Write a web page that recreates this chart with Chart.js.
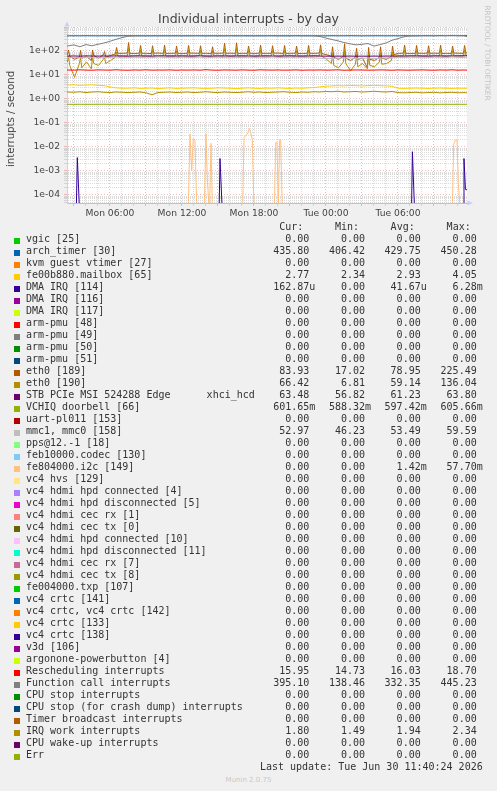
<!DOCTYPE html>
<html><head><meta charset="utf-8">
<script src="https://cdn.jsdelivr.net/npm/chart.js@4.4.1/dist/chart.umd.min.js"></script>
<style>
html,body{margin:0;padding:0;background:#f0f0f0;}
#wrap{position:relative;width:497px;height:791px;overflow:hidden;background:#f0f0f0;font-family:'DejaVu Sans',sans-serif;}
#cv{position:absolute;left:0;top:0;}
.t{position:absolute;white-space:pre;}
#title{left:0;width:497px;text-align:center;top:12px;font-size:12.5px;line-height:14.5px;color:#444;}
#ytitle{left:-49px;width:120px;top:113px;text-align:center;font-size:10.2px;line-height:12px;color:#444;transform:rotate(-90deg);}
#rrd{left:437px;width:100px;top:47.5px;text-align:center;font-size:7.4px;line-height:10px;color:#c4c4c4;transform:rotate(90deg);}
#munin{left:0;width:497px;text-align:center;top:775px;font-size:7px;line-height:10px;color:#c8c8c8;}
.leg{position:absolute;font-family:'DejaVu Sans Mono',monospace;font-size:10px;line-height:12px;color:#333;white-space:pre;}
.sq{position:absolute;width:6px;height:6px;}
</style></head><body><div id="wrap">
<canvas id="cv" width="497" height="225"></canvas>
<div id="title" class="t">Individual interrupts - by day</div>
<div id="ytitle" class="t">interrupts / second</div>
<div id="rrd" class="t">RRDTOOL / TOBI OETIKER</div>
<div id="munin" class="t">Munin 2.0.75</div>
</div>
<script>
// ---------- axis labels ----------
const xTickValues = [6, 12, 18, 24, 30];
const xTickLabels = ['Mon 06:00', 'Mon 12:00', 'Mon 18:00', 'Tue 00:00', 'Tue 06:00'];
const yTickValues = [1e-4, 1e-3, 1e-2, 1e-1, 1, 10, 100];
const yTickLabels = ['1e-04', '1e-03', '1e-02', '1e-01', '1e+00', '1e+01', '1e+02'];
const X_MIN = 2.42, X_MAX = 35.75;   // hours since Mon 00:00
const Y_MIN = 4.6e-5, Y_MAX = 1000;

// ---------- legend ----------
const names = ['vgic [25]','arch_timer [30]','kvm guest vtimer [27]','fe00b880.mailbox [65]','DMA IRQ [114]','DMA IRQ [116]','DMA IRQ [117]','arm-pmu [48]','arm-pmu [49]','arm-pmu [50]','arm-pmu [51]','eth0 [189]','eth0 [190]','STB PCIe MSI 524288 Edge      xhci_hcd','VCHIQ doorbell [66]','uart-pl011 [153]','mmc1, mmc0 [158]','pps@12.-1 [18]','feb10000.codec [130]','fe804000.i2c [149]','vc4 hvs [129]','vc4 hdmi hpd connected [4]','vc4 hdmi hpd disconnected [5]','vc4 hdmi cec rx [1]','vc4 hdmi cec tx [0]','vc4 hdmi hpd connected [10]','vc4 hdmi hpd disconnected [11]','vc4 hdmi cec rx [7]','vc4 hdmi cec tx [8]','fe004000.txp [107]','vc4 crtc [141]','vc4 crtc, vc4 crtc [142]','vc4 crtc [133]','vc4 crtc [138]','v3d [106]','argonone-powerbutton [4]','Rescheduling interrupts','Function call interrupts','CPU stop interrupts','CPU stop (for crash dump) interrupts','Timer broadcast interrupts','IRQ work interrupts','CPU wake-up interrupts','Err'];
const colors = ['#00CC00','#0066B3','#FF8000','#FFCC00','#330099','#990099','#CCFF00','#FF0000','#808080','#008F00','#00487D','#B35A00','#B38F00','#6B006B','#8FB300','#B30000','#BEBEBE','#80FF80','#80C9FF','#FFC080','#FFE680','#AA80FF','#EE00CC','#FF8080','#666600','#FFBFFF','#00FFCC','#CC6699','#999900',
  '#00CC00','#0066B3','#FF8000','#FFCC00','#330099','#990099','#CCFF00','#FF0000','#808080','#008F00','#00487D','#B35A00','#B38F00','#6B006B','#8FB300'];
const Z = '0.00';
const curVals = [Z,'435.80',Z,'2.77','162.87u',Z,Z,Z,Z,Z,Z,'83.93','66.42','63.48','601.65m',Z,'52.97',
  Z,Z,Z,Z,Z,Z,Z,Z,Z,Z,Z,Z,Z,Z,Z,Z,Z,Z,Z,
  '15.95','395.10',Z,Z,Z,'1.80',Z,Z];
const minVals = [Z,'406.42',Z,'2.34',Z,Z,Z,Z,Z,Z,Z,'17.02','6.81','56.82','588.32m',Z,'46.23',
  Z,Z,Z,Z,Z,Z,Z,Z,Z,Z,Z,Z,Z,Z,Z,Z,Z,Z,Z,
  '14.73','138.46',Z,Z,Z,'1.49',Z,Z];
const avgVals = [Z,'429.75',Z,'2.93','41.67u',Z,Z,Z,Z,Z,Z,'78.95','59.14','61.23','597.42m',Z,'53.49',
  Z,Z,'1.42m',Z,Z,Z,Z,Z,Z,Z,Z,Z,Z,Z,Z,Z,Z,Z,Z,
  '16.03','332.35',Z,Z,Z,'1.94',Z,Z];
const maxVals = [Z,'450.28',Z,'4.05','6.28m',Z,Z,Z,Z,Z,Z,'225.49','136.04','63.80','605.66m',Z,'59.59',
  Z,Z,'57.70m',Z,Z,Z,Z,Z,Z,Z,Z,Z,Z,Z,Z,Z,Z,Z,Z,
  '18.70','445.23',Z,Z,Z,'2.34',Z,Z];

// ---------- series (hours since Mon 00:00) ----------
const T = [2.42,3,3.5,4,4.5,5,5.5,6,6.5,7,
  7.5,8,8.5,9,9.5,10,10.5,11,11.5,12,
  12.5,13,13.5,14,14.5,15,15.5,16,16.5,17,
  17.5,18,18.5,19,19.5,20,20.5,21,21.5,22,
  22.5,23,23.5,24,24.5,25,25.5,26,26.5,27,
  27.5,28,28.5,29,29.5,30,30.5,31,31.5,32,
  32.5,33,33.5,34,34.5,35,35.5,35.75];
const archTimer = [428,431,429,432,430,428,431,430,429,432,
  431,433,430,429,431,428,432,430,431,429,
  430,433,431,428,430,432,429,431,430,433,
  428,431,430,429,432,430,428,431,433,430,
  429,431,430,428,432,431,429,433,430,428,
  431,430,432,429,431,430,433,431,429,432,
  438,431,440,432,446,433,437,436];
const funcCall = [160,180,150,185,165,190,215,255,305,360,
  410,425,430,435,432,438,430,436,433,437,
  431,435,438,432,436,430,434,437,432,435,
  433,436,431,438,434,430,436,432,437,433,
  435,431,400,345,300,265,225,200,180,190,
  205,160,185,215,280,330,390,425,432,436,
  430,438,433,440,434,437,431,395];
const resched = [16.2,15.9,16.4,16.0,15.8,16.3,16.1,15.9,16.5,16.0,
  15.8,16.2,16.0,16.4,15.9,16.1,16.0,16.3,15.8,16.1,
  16.0,16.2,15.9,16.6,16.0,15.8,16.2,16.1,15.9,16.3,
  16.0,15.8,16.4,16.1,16.0,16.2,15.9,16.0,16.3,15.8,
  16.1,16.0,16.2,15.9,16.1,16.4,15.8,16.0,16.2,16.1,
  15.9,16.0,16.3,16.1,15.8,16.2,16.0,15.9,16.1,16.3,
  16.0,15.8,16.2,16.0,16.4,15.9,16.1,15.95];
const mailbox = [3.8,3.9,3.7,3.8,3.9,3.7,3.6,3.2,2.9,2.8,
  2.8,2.9,2.75,2.8,2.85,2.7,2.8,2.9,2.75,2.8,
  2.85,2.9,2.8,2.75,2.8,2.9,2.85,2.8,2.7,2.8,
  2.9,2.8,2.75,2.85,2.8,2.9,2.8,2.75,2.85,2.8,
  2.9,3.0,3.2,3.4,3.5,3.6,3.5,3.7,3.6,3.5,
  3.6,3.7,3.6,3.5,3.4,2.8,2.75,2.8,2.85,2.8,
  2.75,2.8,2.85,2.8,2.75,2.8,2.8,2.77];
const irqWork = [1.95,1.9,2.0,1.85,1.95,2.0,1.9,1.85,1.95,1.9,
  1.85,1.9,1.95,1.8,1.5,1.85,1.9,1.95,1.85,1.9,
  1.95,1.85,1.9,2.0,1.9,1.85,1.95,1.9,1.85,1.9,
  2.0,1.9,1.95,1.85,1.9,1.95,2.0,1.9,1.85,1.95,
  1.9,2.0,1.95,2.05,2.0,2.1,1.95,2.0,2.05,1.95,
  2.0,2.1,2.0,1.95,2.05,1.85,1.8,1.85,1.9,1.8,
  1.85,1.9,1.8,1.85,1.9,1.8,1.85,1.80];
const vchiq = [0.600,0.598,0.601,0.597,0.599,0.600,0.602,0.598,0.597,0.600,
  0.599,0.601,0.598,0.600,0.597,0.599,0.602,0.598,0.600,0.597,
  0.598,0.600,0.601,0.597,0.599,0.598,0.600,0.602,0.597,0.599,
  0.600,0.598,0.597,0.601,0.599,0.600,0.598,0.597,0.600,0.601,
  0.598,0.599,0.600,0.597,0.598,0.601,0.599,0.600,0.597,0.598,
  0.600,0.599,0.601,0.597,0.598,0.600,0.599,0.597,0.601,0.598,
  0.600,0.597,0.599,0.601,0.598,0.600,0.599,0.6017];
const stb = [61.5,62.0,61.0,62.5,61.8,61.2,62.0,61.6,62.2,61.4,
  61.0,61.8,62.3,61.5,61.1,61.9,62.4,61.3,61.7,62.0,
  61.2,61.6,62.5,61.4,61.0,61.8,62.1,61.3,61.9,62.2,
  61.5,61.1,61.7,62.3,61.4,61.0,61.9,62.0,61.6,61.2,
  61.8,62.4,61.5,61.0,60.5,61.2,60.8,61.5,60.6,61.0,
  60.7,61.3,60.9,61.4,61.8,62.0,61.5,61.9,62.3,61.6,
  61.2,61.8,62.1,61.5,61.9,62.4,63.0,63.48];
const mmc = [53,54,52,55,53,51,54,53,56,52,
  53,55,54,52,53,56,54,53,52,55,
  54,53,56,52,54,55,53,52,54,53,
  55,54,52,53,56,54,53,55,52,54,
  53,52,50,48,49,51,50,52,49,50,
  51,48,50,52,51,54,53,55,54,52,
  53,55,54,53,56,54,53,52.97];
// eth0 sampled around the hourly bursts
const ETH_T = [2.42,2.45,2.55,2.65,
  3.05,3.45,3.55,3.65, 4.05,4.45,4.55,4.65, 5.05,5.45,5.55,5.65, 6.05,6.45,6.55,6.65,
  7.05,7.45,7.55,7.65, 8.05,8.45,8.55,8.65, 9.05,9.45,9.55,9.65, 10.05,10.45,10.55,10.65,
  11.05,11.45,11.55,11.65, 12.05,12.45,12.55,12.65, 13.05,13.45,13.55,13.65, 14.05,14.45,14.55,14.65,
  15.05,15.45,15.55,15.65, 16.05,16.45,16.55,16.65, 17.05,17.45,17.55,17.65, 18.05,18.45,18.55,18.65,
  19.05,19.45,19.55,19.65, 20.05,20.45,20.55,20.65, 21.05,21.45,21.55,21.65, 22.05,22.45,22.55,22.65,
  23.05,23.45,23.55,23.65, 24.05,24.45,24.55,24.65, 25.05,25.45,25.55,25.65, 26.05,26.45,26.55,26.65,
  27.05,27.45,27.55,27.65, 28.05,28.45,28.55,28.65, 29.05,29.45,29.55,29.65, 30.05,30.45,30.55,30.65,
  31.05,31.45,31.55,31.65, 32.05,32.45,32.55,32.65, 33.05,33.45,33.55,33.65, 34.05,34.45,34.55,34.65,
  35.05,35.45,35.55,35.65,35.75];
const eth189 = [70,72,110,60,
  45,55,105,50, 60,40,110,65, 50,70,95,55, 65,75,140,80,
  80,82,225,80, 79,81,170,80, 80,78,165,81, 82,80,175,79,
  80,81,160,80, 79,80,170,82, 81,80,165,80, 80,79,150,81,
  80,82,215,80, 81,80,220,79, 80,80,160,81, 79,81,175,80,
  80,80,165,82, 82,79,170,80, 80,81,160,79, 79,80,170,80,
  80,82,180,78, 70,60,150,55, 45,60,200,50, 40,55,130,45,
  50,20,140,45, 40,55,150,50, 45,60,160,70, 80,81,175,80,
  79,80,170,81, 80,81,165,80, 81,80,175,79, 80,79,160,82,
  81,80,170,84,84];
const eth190 = [40,35,60,25,
  8,30,55,20, 35,18,60,30, 25,45,55,30, 40,55,90,62,
  63,62,136,63, 62,64,110,62, 63,62,105,64, 62,63,115,62,
  64,62,100,63, 62,63,110,62, 63,64,105,62, 62,62,100,63,
  63,62,130,64, 62,63,135,62, 63,62,105,63, 62,64,110,62,
  63,62,105,63, 62,63,110,62, 64,62,100,63, 62,63,110,62,
  63,62,115,60, 45,30,80,25, 20,35,110,30, 15,28,70,22,
  30,18,75,25, 22,35,80,28, 30,40,90,55, 62,63,110,62,
  63,62,105,64, 62,63,100,62, 64,62,110,63, 62,63,105,62,
  63,62,110,66,66];
const DMA_T = [2.42, 3.2,3.28,3.45, 15.1,15.17,15.34, 31.13,31.2,31.37, 35.42,35.5,35.62,35.75];
const DMA_V = [0, 0,0.0036,0, 0,0.0033,0, 0,0.0063,0, 0,0.0033,0.00017,0.000163];
const I2C_T = [2.42, 12.53,12.67,12.81,12.94,13.08,13.23, 13.86,14.0,14.11,14.25,14.3,14.42,14.53,
  17.06,17.17,17.34,17.5,17.61,17.73,17.86,18.0, 19.7,19.81,19.92,20.03,20.08,20.14,20.22,20.36,
  34.53,34.64,34.81,34.92,35.03,35.17, 35.75];
const I2C_V = [0, 0,0.035,0.001,0.022,0.02,0, 0,0.035,0.0005,0,0,0.014,0,
  0,0.025,0.03,0.04,0.058,0.04,0.02,0, 0,0.015,0.016,0,0,0.02,0.02,0,
  0,0.013,0.02,0.019,0.0003,0, 0];

// ---------- build chart ----------
const FLOOR = Y_MIN * 0.7; // zero drawn below the bottom edge (log scale)
function toPts(ts, vs) { return ts.map((t, i) => ({x: t, y: vs[i] > 0 ? vs[i] : FLOOR})); }
const series = [
  {idx: 1, t: T, v: archTimer}, {idx: 3, t: T, v: mailbox}, {idx: 4, t: DMA_T, v: DMA_V},
  {idx: 11, t: ETH_T, v: eth189}, {idx: 12, t: ETH_T, v: eth190}, {idx: 13, t: T, v: stb},
  {idx: 14, t: T, v: vchiq}, {idx: 16, t: T, v: mmc}, {idx: 19, t: I2C_T, v: I2C_V},
  {idx: 36, t: T, v: resched}, {idx: 37, t: T, v: funcCall}, {idx: 41, t: T, v: irqWork}
];
const datasets = series.map(s => ({
  label: names[s.idx], data: toPts(s.t, s.v), borderColor: colors[s.idx],
  borderWidth: 1, pointRadius: 0, tension: 0, fill: false, order: -s.idx
}));

const RED = 'rgba(232,130,130,0.55)', GREY = 'rgba(175,175,175,0.45)';
function isDecade(v) { const e = Math.log10(v); return Math.abs(e - Math.round(e)) < 1e-9; }

const bgPlugin = {
  id: 'bg',
  beforeDraw(chart) {
    const {ctx, chartArea: a} = chart;
    ctx.save(); ctx.fillStyle = '#ffffff';
    ctx.fillRect(a.left, a.top, a.right - a.left, a.bottom - a.top); ctx.restore();
  },
  afterDraw(chart) {
    const {ctx, chartArea: a} = chart;
    ctx.save(); ctx.fillStyle = '#c9d0f5';
    ctx.beginPath(); ctx.moveTo(a.left - 2.5, a.top - 0.5); ctx.lineTo(a.left + 2.5, a.top - 0.5); ctx.lineTo(a.left, a.top - 5.5); ctx.closePath(); ctx.fill();
    ctx.beginPath(); ctx.moveTo(a.right + 0.5, a.bottom - 2.5); ctx.lineTo(a.right + 0.5, a.bottom + 2.5); ctx.lineTo(a.right + 6, a.bottom); ctx.closePath(); ctx.fill();
    ctx.restore();
  }
};

new Chart(document.getElementById('cv'), {
  type: 'line',
  data: {datasets},
  plugins: [bgPlugin],
  options: {
    responsive: false, animation: false, events: [],
    layout: {padding: {left: 0, right: 30, top: 27, bottom: 0}},
    plugins: {legend: {display: false}, tooltip: {enabled: false}, title: {display: false}},
    scales: {
      x: {
        type: 'linear', min: X_MIN, max: X_MAX, bounds: 'data',
        afterBuildTicks(scale) {
          const ticks = [];
          for (let h = Math.ceil(X_MIN); h <= X_MAX; h++) ticks.push({value: h});
          scale.ticks = ticks;
        },
        afterFit(scale) { scale.height = 22; },
        ticks: {
          autoSkip: false, maxRotation: 0, padding: 2, color: '#444',
          font: {family: 'DejaVu Sans', size: 9.2},
          callback(v) { const i = xTickValues.indexOf(v); return i >= 0 ? xTickLabels[i] : ''; }
        },
        grid: {
          color: c => (c.tick && c.tick.value % 3 === 0) ? RED : GREY,
          lineWidth: 1, drawTicks: true, tickLength: 3, tickBorderDash: []
        },
        border: {display: true, color: '#c0cc8c', width: 1, dash: c => (c.tick && c.tick.value % 3 === 0) ? [1, 2] : [1, 1]}
      },
      y: {
        type: 'logarithmic', min: Y_MIN, max: Y_MAX,
        afterBuildTicks(scale) {
          const ticks = [];
          for (let e = -5; e <= 2; e++) for (let m = 1; m <= 9; m++) {
            const v = +(m * Math.pow(10, e)).toPrecision(6);
            if (v >= Y_MIN && v <= Y_MAX) ticks.push({value: v});
          }
          ticks.push({value: Y_MAX});
          scale.ticks = ticks;
        },
        afterFit(scale) { scale.width = 67; },
        ticks: {
          autoSkip: false, padding: 4, color: '#444',
          font: {family: 'DejaVu Sans', size: 9.2},
          callback(v) {
            const i = yTickValues.findIndex(t => Math.abs(Math.log10(t) - Math.log10(v)) < 1e-9);
            return i >= 0 ? yTickLabels[i] : '';
          }
        },
        grid: {
          color: c => (c.tick && isDecade(c.tick.value)) ? RED : GREY,
          lineWidth: 1, drawTicks: true, tickLength: 3, tickBorderDash: []
        },
        border: {display: true, color: '#c9d0f5', width: 1, dash: c => (c.tick && isDecade(c.tick.value)) ? [1, 2] : [1, 1]}
      }
    }
  }
});

// ---------- legend table (HTML text) ----------
const wrap = document.getElementById('wrap');
const COLX = [309.3, 365, 420.7, 476.7];
const HEAD = ['Cur:', 'Min:', 'Avg:', 'Max:'];
const ROW0 = 233, ROWH = 12;
function addText(txt, style) {
  const d = document.createElement('div'); d.className = 'leg'; d.textContent = txt;
  Object.assign(d.style, style); wrap.appendChild(d); return d;
}
HEAD.forEach((h, c) => addText(h, {top: (ROW0 - ROWH) + 'px', right: (497 - COLX[c] + 6) + 'px'}));
names.forEach((n, i) => {
  const top = ROW0 + i * ROWH;
  const sq = document.createElement('div'); sq.className = 'sq';
  sq.style.left = '14px'; sq.style.top = (top + 4.5) + 'px'; sq.style.background = colors[i];
  wrap.appendChild(sq);
  addText(n, {top: top + 'px', left: '26px'});
  [curVals, minVals, avgVals, maxVals].forEach((arr, c) => {
    const m = arr[i].match(/^([\d.]+)(\D?)$/);
    addText(m[1], {top: top + 'px', right: (497 - COLX[c]) + 'px'});
    if (m[2]) addText(m[2], {top: top + 'px', left: COLX[c] + 'px'});
  });
});
addText('Last update: Tue Jun 30 11:40:24 2026', {top: (ROW0 + names.length * ROWH) + 'px', right: (497 - 482.7) + 'px'});
</script>
</body></html>
